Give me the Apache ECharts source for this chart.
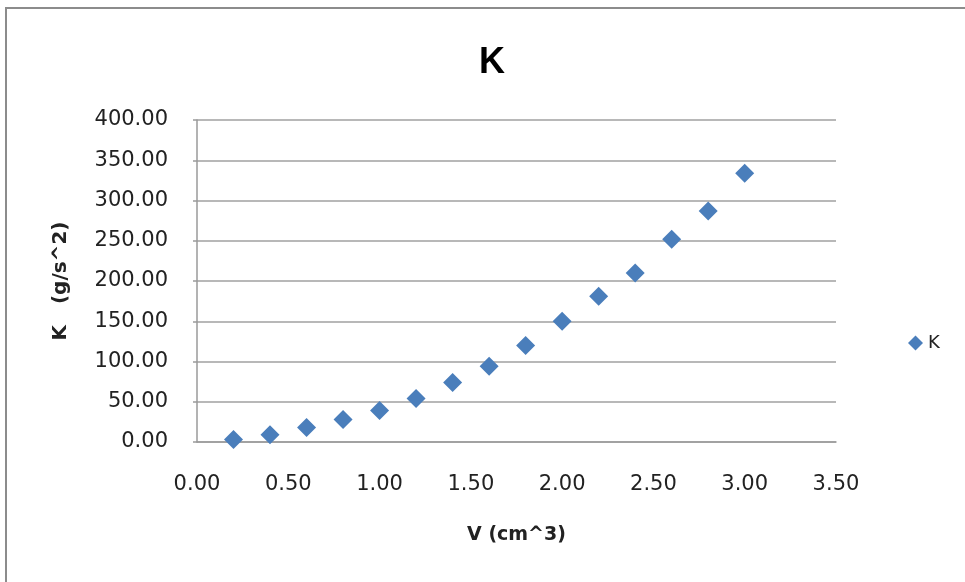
<!DOCTYPE html>
<html>
<head>
<meta charset="utf-8">
<script src="https://cdn.jsdelivr.net/npm/echarts@6/dist/echarts.min.js"></script>
<style>
html,body{margin:0;padding:0;background:#fff;}
#c{width:965px;height:582px;}
</style>
</head>
<body>
<div id="c"></div>
<script>
var vValues = [0.2, 0.4, 0.6, 0.8, 1.0, 1.2, 1.4, 1.6, 1.8, 2.0, 2.2, 2.4, 2.6, 2.8, 3.0];
var kValues = [3, 9, 18, 28, 39, 54, 74, 94, 120, 150, 181, 210, 252, 287, 334];
var seriesName = 'K';
var titleText = 'K';
var xName = 'V (cm^3)';
var yName = 'K   (g/s^2)';

var points = vValues.map(function (v, i) { return [v, kValues[i]]; });

var chart = echarts.init(document.getElementById('c'));
chart.setOption({
  animation: false,
  backgroundColor: '#fff',
  graphic: [{
    type: 'polyline',
    shape: { points: [[6, 600], [6, 8], [1000, 8]] },
    style: { stroke: '#8c8c8c', lineWidth: 2, fill: null },
    silent: true
  }],
  title: {
    text: titleText,
    left: 487,
    top: 40,
    textAlign: 'center',
    textStyle: { fontFamily: 'Liberation Sans, sans-serif', fontWeight: 'bold', fontSize: 36, color: '#000' }
  },
  legend: {
    data: [{ name: seriesName, icon: 'diamond' }],
    left: 903,
    top: 329,
    itemWidth: 15,
    itemHeight: 15,
    itemGap: 6,
    textStyle: { fontFamily: 'DejaVu Sans', fontSize: 18, color: '#222' }
  },
  grid: { left: 197, right: 129, top: 120, bottom: 140, containLabel: false },
  xAxis: {
    type: 'value',
    min: 0, max: 3.5, interval: 0.5,
    name: xName,
    nameLocation: 'middle',
    nameGap: 84,
    nameTextStyle: { fontFamily: 'DejaVu Sans', fontWeight: 'bold', fontSize: 19, color: '#222' },
    axisLine: { show: true, lineStyle: { color: '#9a9a9a', width: 1.5 } },
    axisTick: { show: false },
    splitLine: { show: false },
    axisLabel: {
      margin: 32,
      fontFamily: 'DejaVu Sans', fontSize: 21, color: '#222',
      formatter: function (v) { return v.toFixed(2); }
    }
  },
  yAxis: {
    type: 'value',
    min: 0, max: 400, interval: 50,
    name: yName,
    nameLocation: 'middle',
    nameGap: 126,
    nameTextStyle: { fontFamily: 'DejaVu Sans', fontWeight: 'bold', fontSize: 20, color: '#222' },
    axisLine: { show: true, lineStyle: { color: '#9a9a9a', width: 1.5 } },
    axisTick: { show: true, inside: false, length: 4, lineStyle: { color: '#9a9a9a', width: 1.5 } },
    splitLine: { show: true, lineStyle: { color: '#a0a0a0', width: 1.5 } },
    axisLabel: {
      margin: 29,
      fontFamily: 'DejaVu Sans', fontSize: 21, color: '#222',
      formatter: function (v) { return v.toFixed(2); }
    }
  },
  series: [{
    name: seriesName,
    type: 'scatter',
    symbol: 'diamond',
    symbolSize: 19,
    itemStyle: { color: '#4a7ebb', opacity: 1 },
    data: points
  }]
});
</script>
</body>
</html>
